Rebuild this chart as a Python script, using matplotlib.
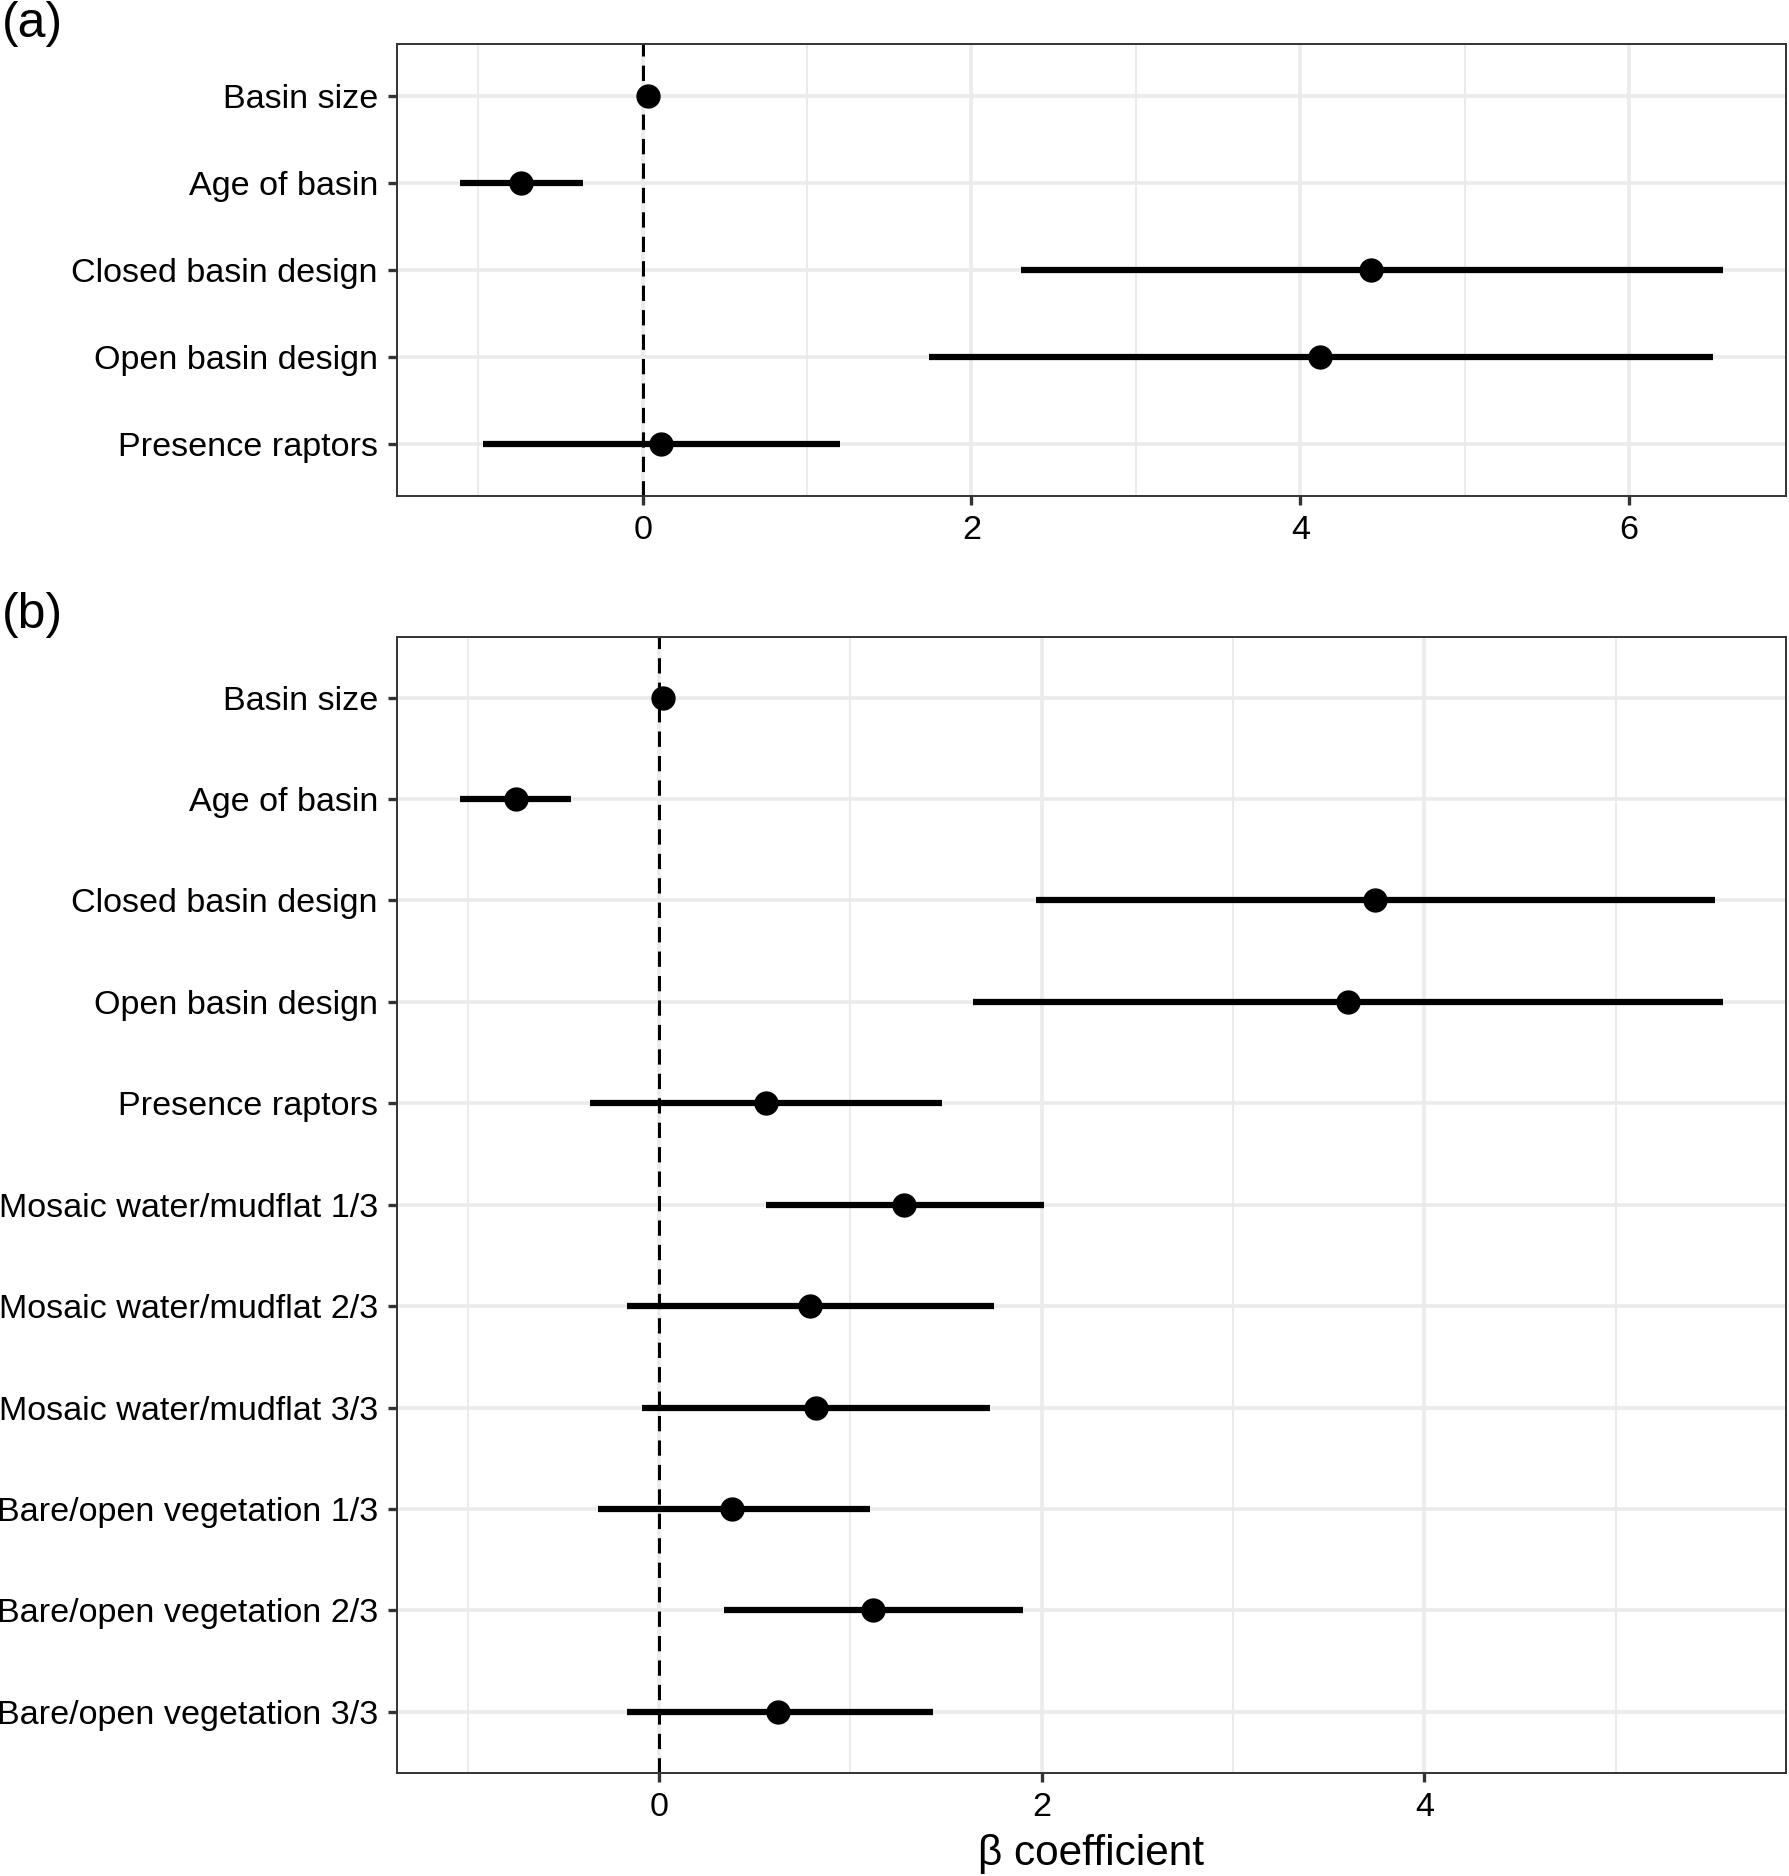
import matplotlib.pyplot as plt
from matplotlib.ticker import MultipleLocator
import numpy as np

plt.rcParams['font.family'] = ['Liberation Sans', 'DejaVu Sans']

# panel (a)
labels_a = ["Basin size", "Age of basin", "Closed basin design",
            "Open basin design", "Presence raptors"]
est_a = [0.03, -0.74, 4.43, 4.12, 0.11]
lo_a = [0.00, -1.11, 2.30, 1.74, -0.97]
hi_a = [0.05, -0.36, 6.57, 6.51, 1.20]

# panel (b)
labels_b = ["Basin size", "Age of basin", "Closed basin design",
            "Open basin design", "Presence raptors",
            "Mosaic water/mudflat 1/3", "Mosaic water/mudflat 2/3",
            "Mosaic water/mudflat 3/3", "Bare/open vegetation 1/3",
            "Bare/open vegetation 2/3", "Bare/open vegetation 3/3"]
est_b = [0.02, -0.75, 3.74, 3.60, 0.56, 1.28, 0.79, 0.82, 0.38, 1.12, 0.62]
lo_b = [0.00, -1.04, 1.97, 1.64, -0.36, 0.56, -0.17, -0.09, -0.32, 0.34, -0.17]
hi_b = [0.04, -0.46, 5.52, 5.56, 1.48, 2.01, 1.75, 1.73, 1.10, 1.90, 1.43]

W, H = 1789, 1876
fig = plt.figure(figsize=(W / 100, H / 100), dpi=100)


def forest(ax, labels, est, lo, hi):
    n = len(labels)
    y = np.arange(n)[::-1]
    ax.hlines(y, lo, hi, color='black', lw=4.5, zorder=3)
    ax.plot(est, y, 'o', ms=16.5, color='black', zorder=4)
    ax.axvline(0, color='black', lw=2.2, ls=(0, (5, 3)), zorder=2)

    # ggplot-like 5% expansion on x, 0.6 on the discrete axis
    xmin, xmax = min(lo), max(hi)
    pad = 0.05 * (xmax - xmin)
    ax.set_xlim(xmin - pad, xmax + pad)
    ax.set_ylim(-0.6, n - 1 + 0.6)

    ax.set_yticks(y)
    ax.set_yticklabels(labels)
    ax.xaxis.set_major_locator(MultipleLocator(2))
    ax.xaxis.set_minor_locator(MultipleLocator(1))

    ax.set_axisbelow(True)
    ax.grid(which='major', color='#EBEBEB', lw=2.6)
    ax.grid(which='minor', axis='x', color='#EBEBEB', lw=1.4)
    for s in ax.spines.values():
        s.set_color('#333333')
        s.set_linewidth(1.4)
    ax.tick_params(which='major', length=6.7, width=2.4, color='#333333',
                   labelsize=24.6, labelcolor='black', pad=7)
    ax.tick_params(which='minor', length=0)


ax_a = fig.add_axes([397 / W, 1 - 496 / H, 1389 / W, (496 - 43.6) / H])
forest(ax_a, labels_a, est_a, lo_a, hi_a)

ax_b = fig.add_axes([397 / W, 1 - 1772.7 / H, 1389 / W, (1772.7 - 636.8) / H])
forest(ax_b, labels_b, est_b, lo_b, hi_b)
ax_b.set_xlabel("β coefficient", fontsize=30.5, va='baseline')
ax_b.xaxis.set_label_coords(0.5, -(1865 - 1772.7) / (1772.7 - 636.8))

fig.text(2 / W, 1 - 1 / H, "(a)", fontsize=36, va='top', ha='left')
fig.text(2 / W, 1 - 592 / H, "(b)", fontsize=36, va='top', ha='left')

fig.savefig('out.png', dpi=100)
